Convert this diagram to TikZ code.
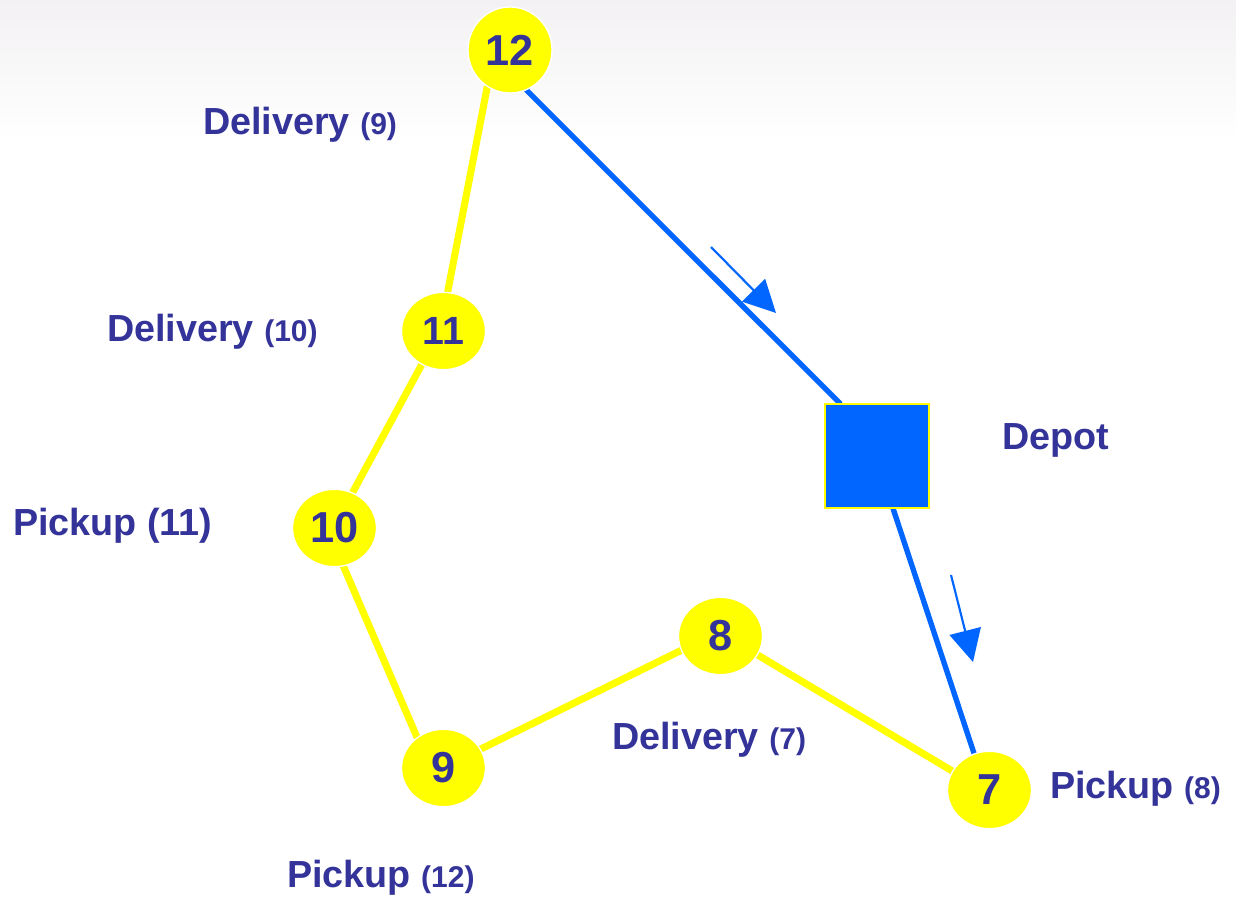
\documentclass[tikz,border=0pt]{standalone}
\usepackage{fontspec}
\setmainfont{Liberation Sans}
\usetikzlibrary{shapes.geometric,arrows.meta}
\definecolor{txt}{RGB}{51,51,153}
\definecolor{route}{RGB}{0,102,255}
\definecolor{ylw}{RGB}{255,255,0}
\definecolor{bgtop}{RGB}{243,241,243}
\pgfdeclarelayer{back}
\pgfdeclarelayer{bg}
\pgfsetlayers{back,bg,main}
\newcommand\paren[1]{{\fontsize{22.5}{22.5}\selectfont #1}}
\begin{document}
\begin{tikzpicture}[x=0.75pt,y=-0.75pt,
  stop/.style={ellipse, fill=ylw, draw=white, line width=1pt, inner sep=0pt, outer sep=0pt,
    minimum width=63pt, minimum height=58pt, text=txt, font=\bfseries\fontsize{32.5}{32.5}\selectfont},
  lbl/.style={anchor=base west, inner sep=0pt, outer sep=0pt, text=txt, font=\bfseries\fontsize{28.3}{28.3}\selectfont},
  yl/.style={draw=ylw, line width=5.3pt},
  bl/.style={draw=route, line width=4pt},
  dirarrow/.style={draw=route, fill=route, line width=1.6pt, -{Triangle[length=24pt,width=24pt]}}]
\useasboundingbox (0,0) rectangle (1236,897);
\begin{pgfonlayer}{back}
  \fill[white] (0,0) rectangle (1236,897);
  \shade[top color=bgtop, bottom color=white] (0,0) rectangle (1236,140);
\end{pgfonlayer}

% stops
\node[stop, minimum height=64.5pt] (n12) at (510,50) {12};
\node[stop, font=\bfseries\fontsize{29.5}{29.5}\selectfont] (n11) at (443.5,331) {11};
\node[stop] (n10) at (334.5,528) {10};
\node[stop] (n9) at (443.5,768) {9};
\node[stop] (n8) at (720.5,636) {8};
\node[stop] (n7) at (989.5,790) {7};
\node[draw=ylw, fill=route, line width=1.5pt, minimum size=78pt, inner sep=0pt, outer sep=0pt] (depot) at (877,456) {};

% route
\begin{pgfonlayer}{bg}
  \draw[yl] (n12.238) -- (n11.84);
  \draw[yl] (n11.237) -- (n10.63);
  \draw[yl] (n10.283) -- (n9.131);
  \draw[yl] (n9.27) -- (n8.200);
  \draw[yl] (n8.333) -- (n7.153);
  \draw[bl] (n12.292) -- (depot.125);
  \draw[bl] (depot.287) -- (n7.113);
\end{pgfonlayer}

% direction arrows
\coordinate (a1s) at (711,247);
\coordinate (a1e) at (776,313);
\coordinate (a2s) at (951,575);
\coordinate (a2e) at (973,662);
\draw[dirarrow] (a1s) -- (a1e);
\draw[dirarrow] (a2s) -- (a2e);

% labels
\node[lbl] (l12) at (203,134) {Delivery \paren{(9)}};
\node[lbl] (l11) at (107,341) {Delivery \paren{(10)}};
\node[lbl] (l10) at (13,535) {Pickup (11)};
\node[lbl] (ldepot) at (1002,449) {Depot};
\node[lbl] (l8) at (612,749) {Delivery \paren{(7)}};
\node[lbl] (l7) at (1050,798) {Pickup \paren{(8)}};
\node[lbl] (l9) at (287,887) {Pickup \paren{(12)}};
\end{tikzpicture}
\end{document}
